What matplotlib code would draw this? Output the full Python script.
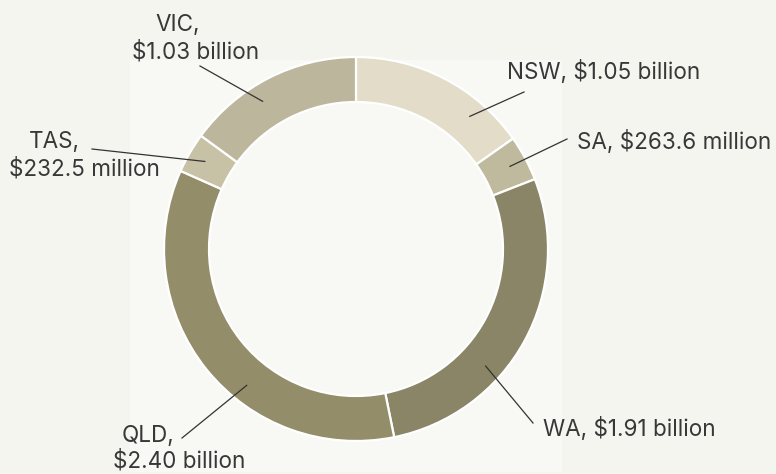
import numpy as np
import matplotlib.pyplot as plt
from matplotlib.patches import Rectangle

plt.rcParams['font.family'] = ['Inter', 'DejaVu Sans']

# spending by state, clockwise from 12 o'clock ($ billion)
states = ['NSW', 'SA', 'WA', 'QLD', 'TAS', 'VIC']
values = [1.05, 0.2636, 1.91, 2.40, 0.2325, 1.03]
value_labels = ['$1.05 billion', '$263.6 million', '$1.91 billion',
                '$2.40 billion', '$232.5 million', '$1.03 billion']
colors = ['#e2dcc8', '#bfba9e', '#8a8566', '#948d69', '#c7c1a6', '#bcb79c']

W, H = 776, 474
def py(y):
    # pixel row (from top) -> data y
    return H - y

fig = plt.figure(figsize=(W / 100, H / 100), dpi=100, facecolor='#f5f5f0')
ax = fig.add_axes([0, 0, 1, 1])
ax.add_patch(Rectangle((130, py(472)), 432, 412, color='#f8f8f5', zorder=0, lw=0))

cx, cy, R = 356, py(249), 192
wedges, _ = ax.pie(values, colors=colors, startangle=90, counterclock=False,
                   center=(cx, cy), radius=R,
                   wedgeprops=dict(width=45, edgecolor='white', linewidth=1.6))
ax.set_xlim(0, W)
ax.set_ylim(0, H)
ax.set_aspect('equal')
ax.axis('off')

# label layout: where the leader line leaves the text, where along the wedge it lands
line_start = [(524, 92), (567, 139), (533, 423), (182, 438), (92, 149), (200, 66)]
along = [0.74, 0.5, 0.635, 0.40, 0.5, 0.40]
txt_col = '#383838'
fs = 16.2

for w, (sx, sy), f in zip(wedges, line_start, along):
    ang = np.deg2rad(w.theta2 - f * (w.theta2 - w.theta1))
    ex = cx + 0.91 * R * np.cos(ang)
    ey = cy + 0.91 * R * np.sin(ang)
    ax.plot([sx, ex], [py(sy), ey], color='#333333', lw=0.9, zorder=5)

# one-line labels
ax.text(507, py(72), f'{states[0]}, {value_labels[0]}', fontsize=fs, color=txt_col, va='center', ha='left')
ax.text(577, py(142), f'{states[1]}, {value_labels[1]}', fontsize=fs, color=txt_col, va='center', ha='left')
ax.text(543, py(429), f'{states[2]}, {value_labels[2]}', fontsize=fs, color=txt_col, va='center', ha='left')

# two-line labels
two_line = {3: ((148, 436), (179, 461)),
            4: ((54, 142), (84, 169)),
            5: ((178, 25), (196, 52))}
for i, ((x1, y1), (x2, y2)) in two_line.items():
    ax.text(x1, py(y1), f'{states[i]},', fontsize=fs, color=txt_col, va='center', ha='center')
    ax.text(x2, py(y2), value_labels[i], fontsize=fs, color=txt_col, va='center', ha='center')

fig.savefig('out.png', dpi=100, facecolor=fig.get_facecolor())
